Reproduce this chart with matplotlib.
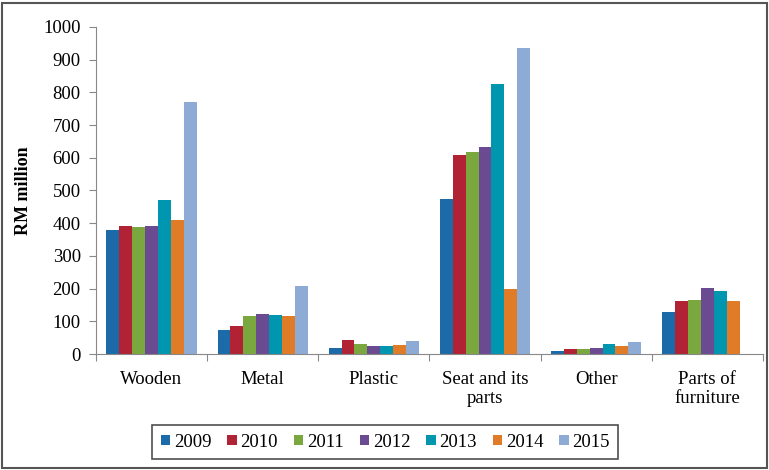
import matplotlib
matplotlib.use('Agg')
import matplotlib.pyplot as plt
import numpy as np
from matplotlib.patches import Rectangle

plt.rcParams['font.family'] = ['Liberation Serif', 'DejaVu Serif']

categories = ['Wooden', 'Metal', 'Plastic', 'Seat and its\nparts', 'Other',
              'Parts of\nfurniture']
years = ['2009', '2010', '2011', '2012', '2013', '2014', '2015']

v2009 = [379, 72, 17, 475, 10, 128]
v2010 = [390, 87, 42, 609, 14, 162]
v2011 = [387, 115, 32, 619, 14, 165]
v2012 = [390, 121, 24, 634, 17, 201]
v2013 = [472, 118, 25, 827, 32, 194]
v2014 = [410, 115, 29, 200, 25, 162]
v2015 = [772, 207, 39, 935, 38, 0]
series = [v2009, v2010, v2011, v2012, v2013, v2014, v2015]

colors = ['#1c6aa8', '#b02234', '#7aa83f', '#6a4a90', '#0096b0', '#e07c28',
          '#8eabd6']

fig = plt.figure(figsize=(7.69, 4.70), dpi=100)
ax = fig.add_axes([0.1248, 0.2468, 0.8672, 0.6958])

x = np.arange(len(categories))
width = 0.116
for i, (vals, c, yr) in enumerate(zip(series, colors, years)):
    offs = (i - 3) * width
    ax.bar(x + offs, vals, width, color=c, label=yr, linewidth=0)

ax.set_xlim(-0.5, len(categories) - 0.5)
ax.set_ylim(0, 1000)
ax.set_yticks(np.arange(0, 1001, 100))

# category boundaries get the tick marks, labels sit on the centres
ax.set_xticks(np.arange(-0.5, len(categories), 1.0))
ax.set_xticklabels([])
ax.set_xticks(x, minor=True)
ax.set_xticklabels(categories, minor=True, fontsize=13.5)
ax.tick_params(axis='x', which='minor', length=0, pad=12)
ax.tick_params(axis='x', which='major', length=5, color='#888888')
ax.tick_params(axis='y', length=5, color='#888888', labelsize=13.5, pad=6)

for s in ['top', 'right']:
    ax.spines[s].set_visible(False)
for s in ['left', 'bottom']:
    ax.spines[s].set_color('#888888')

ax.set_ylabel('RM million', fontsize=13, fontweight='bold', labelpad=8)

leg = ax.legend(loc='center', bbox_to_anchor=(0.434, -0.27), ncol=7,
                fontsize=13.5, frameon=True, fancybox=False, handlelength=0.5,
                handleheight=0.5, handletextpad=0.2, columnspacing=0.85,
                borderpad=0.45)
leg.get_frame().set_edgecolor('#222222')
leg.get_frame().set_linewidth(1.2)

fig.patches.append(Rectangle((0.003, 0.004), 0.994, 0.99,
                             transform=fig.transFigure, fill=False,
                             edgecolor='#555555', linewidth=1.5))

fig.savefig('out.png', dpi=100)
